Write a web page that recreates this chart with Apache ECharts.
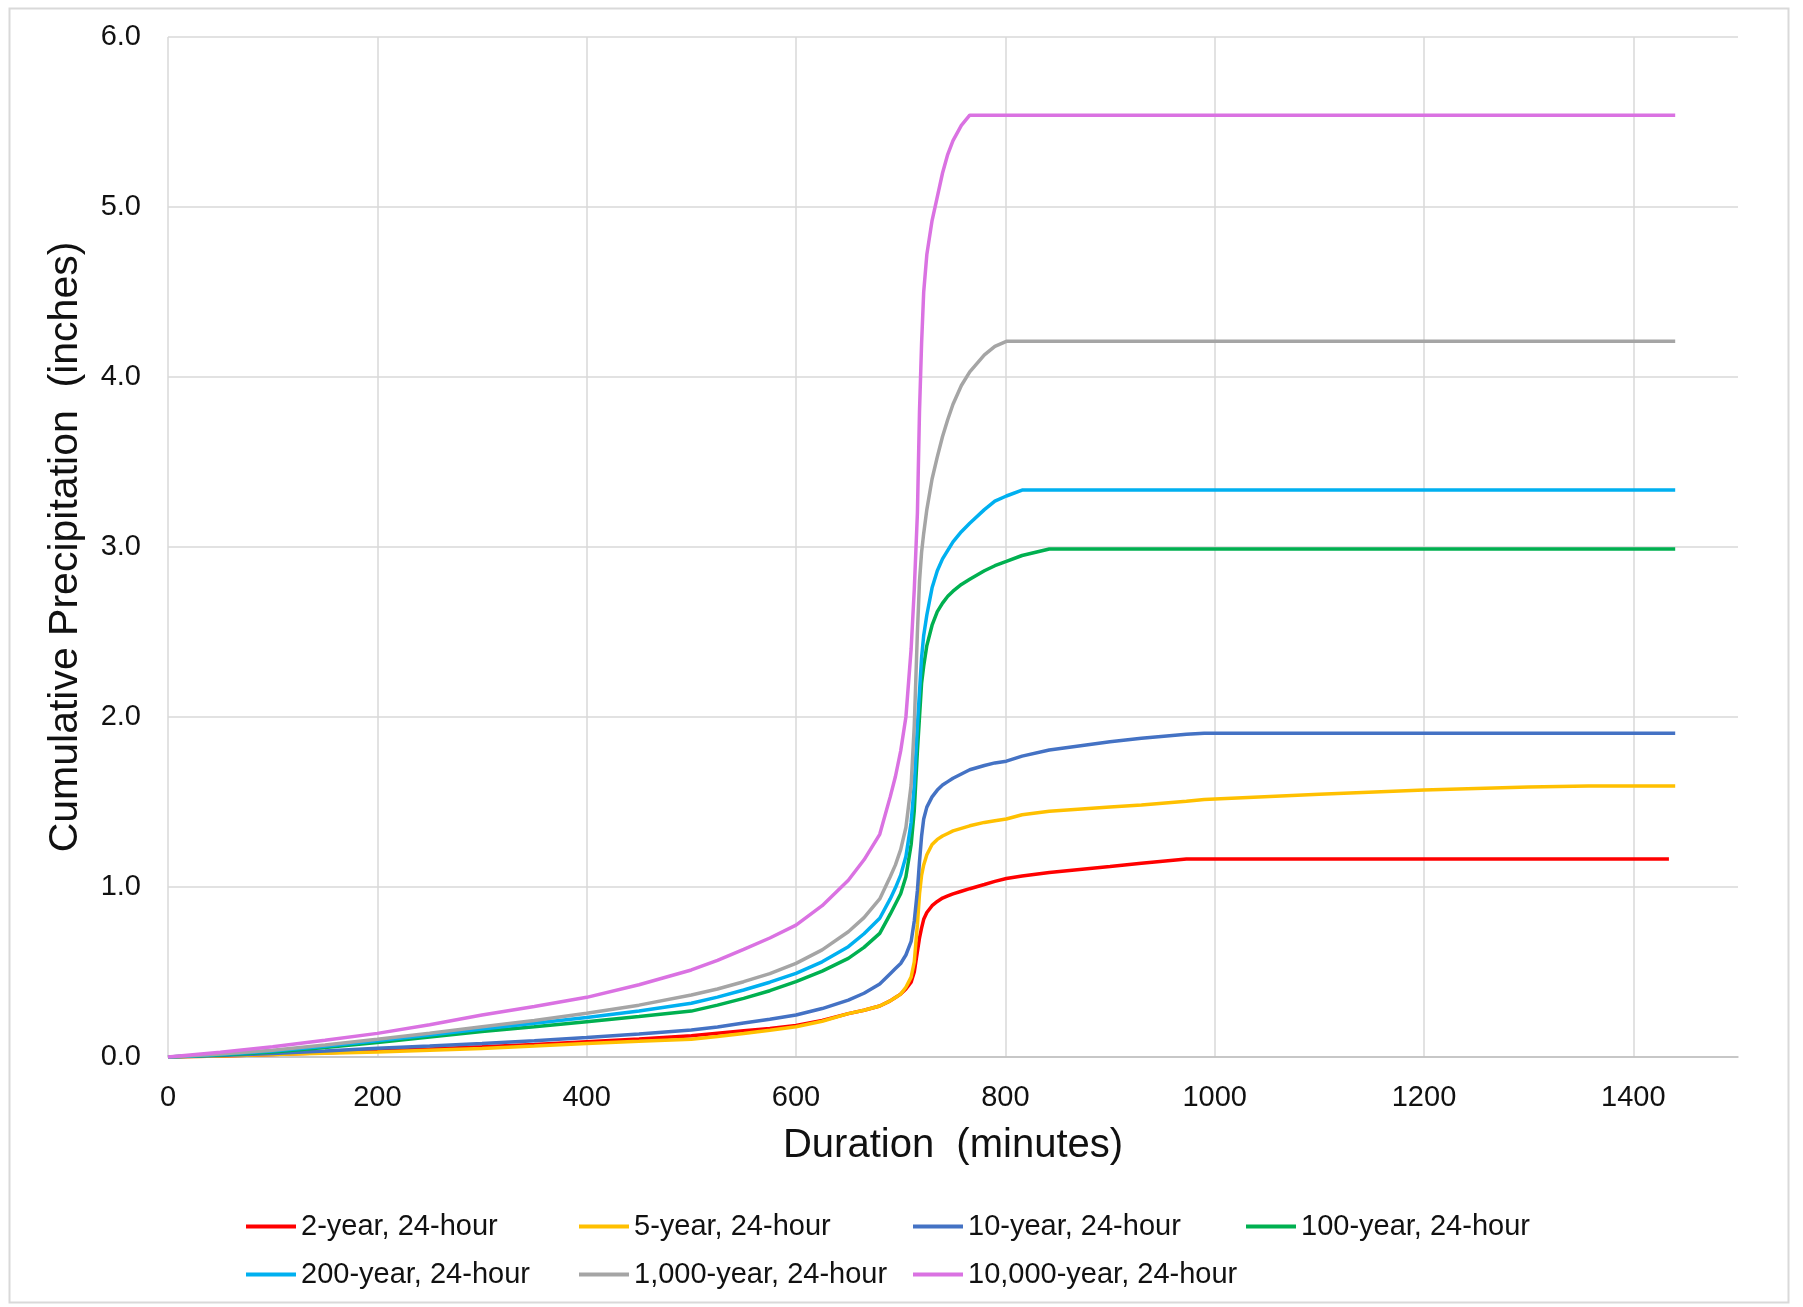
<!DOCTYPE html>
<html>
<head>
<meta charset="utf-8">
<script src="https://cdn.jsdelivr.net/npm/echarts@6/dist/echarts.min.js"></script>
<style>
html,body{margin:0;padding:0;background:#fff;}
#chart{width:1803px;height:1307px;}
</style>
</head>
<body>
<div id="chart"></div>
<script>
// Duration (minutes) sample points shared by all series
const minutes = [0,50,100,150,200,250,300,350,400,450,
                 500,525,550,575,600,625,650,665,680,690,
                 695,700,705,710,713,716,718,720,722,725,
                 730,735,740,745,750,758,766,780,790,801,
                 816,842,900,930,973,990,1100,1200,1300,1357,
                 1434,1440];

const seriesNames = ["2-year, 24-hour","5-year, 24-hour","10-year, 24-hour","100-year, 24-hour","200-year, 24-hour","1,000-year, 24-hour","10,000-year, 24-hour"];

const y2 = [0,0.006,0.015,0.025,0.035,0.047,0.06,0.074,0.09,0.106,
            0.125,0.14,0.155,0.168,0.185,0.215,0.255,0.275,0.30,0.33,
            0.35,0.37,0.40,0.44,0.50,0.62,0.70,0.76,0.81,0.85,
            0.89,0.915,0.935,0.948,0.96,0.975,0.99,1.015,1.033,1.05,
            1.065,1.085,1.12,1.14,1.165,1.165,1.165,1.165,1.165,1.165,
            1.165,null];
const y5 = [0,0.006,0.015,0.022,0.03,0.04,0.05,0.064,0.08,0.092,
            0.105,0.12,0.138,0.157,0.178,0.21,0.255,0.275,0.30,0.33,
            0.35,0.37,0.41,0.47,0.56,0.78,0.96,1.07,1.13,1.19,
            1.25,1.28,1.30,1.315,1.33,1.345,1.36,1.38,1.39,1.40,
            1.425,1.445,1.47,1.483,1.505,1.515,1.545,1.571,1.588,1.594,
            1.594,1.594];
const y10 = [0,0.009,0.02,0.035,0.051,0.065,0.08,0.096,0.114,0.135,
             0.159,0.177,0.2,0.222,0.247,0.285,0.335,0.375,0.43,0.49,
             0.52,0.55,0.60,0.68,0.80,0.98,1.15,1.30,1.40,1.47,
             1.53,1.57,1.60,1.62,1.64,1.665,1.69,1.715,1.73,1.74,
             1.77,1.806,1.855,1.875,1.898,1.904,1.904,1.904,1.904,1.904,
             1.904,1.904];
const y100 = [0,0.012,0.03,0.056,0.085,0.117,0.15,0.178,0.208,0.238,
              0.27,0.305,0.345,0.39,0.443,0.505,0.58,0.645,0.727,0.84,
              0.90,0.96,1.06,1.25,1.45,1.80,2.00,2.20,2.30,2.42,
              2.54,2.62,2.67,2.71,2.74,2.78,2.81,2.86,2.89,2.915,
              2.95,2.988,2.988,2.988,2.988,2.988,2.988,2.988,2.988,2.988,
              2.988,2.988];
const y200 = [0,0.015,0.035,0.063,0.095,0.13,0.165,0.198,0.233,0.27,
              0.316,0.352,0.394,0.44,0.492,0.56,0.649,0.725,0.816,0.93,
              0.995,1.07,1.18,1.38,1.60,1.95,2.15,2.35,2.48,2.60,
              2.76,2.86,2.93,2.98,3.03,3.09,3.14,3.22,3.27,3.30,
              3.335,3.335,3.335,3.335,3.335,3.335,3.335,3.335,3.335,3.335,
              3.335,3.335];
const y1000 = [0,0.018,0.04,0.07,0.104,0.14,0.178,0.215,0.257,0.305,
               0.365,0.40,0.443,0.49,0.551,0.63,0.737,0.82,0.93,1.06,
               1.13,1.22,1.35,1.60,1.95,2.50,2.80,2.97,3.08,3.22,
               3.40,3.53,3.65,3.75,3.84,3.95,4.03,4.13,4.18,4.21,
               4.21,4.21,4.21,4.21,4.21,4.21,4.21,4.21,4.21,4.21,
               4.21,4.21];
const y10000 = [0,0.028,0.06,0.098,0.139,0.19,0.247,0.297,0.351,0.425,
                0.512,0.568,0.633,0.70,0.776,0.89,1.04,1.16,1.31,1.53,
                1.65,1.80,2.00,2.40,2.75,3.20,3.80,4.20,4.50,4.72,
                4.92,5.06,5.20,5.31,5.39,5.48,5.54,5.54,5.54,5.54,
                5.54,5.54,5.54,5.54,5.54,5.54,5.54,5.54,5.54,5.54,
                5.54,5.54];

const allValues = [y2,y5,y10,y100,y200,y1000,y10000];
const colors = ['#FF0000','#FFC000','#4472C4','#00B050','#00B0F0','#A5A5A5','#DA72E2'];

const xTicks = {min:0, max:1500, interval:200};
const yTicks = {min:0, max:6, interval:1};

const FONT = '"Liberation Sans", Arial, sans-serif';

const series = seriesNames.map((name,k)=>({
  name: name,
  type: 'line',
  symbol: 'none',
  smooth: false,
  connectNulls: false,
  lineStyle: {width: 3.5, color: colors[k]},
  itemStyle: {color: colors[k]},
  data: minutes.map((m,i)=>[m, allValues[k][i]])
}));

// legend item positions (two rows, four columns)
const colX = [241, 574, 908, 1241];
const rowY = [1207, 1255];
const legends = seriesNames.map((name,k)=>({
  data:[name],
  left: colX[k%4],
  top: rowY[Math.floor(k/4)],
  icon: 'rect',
  itemWidth: 50,
  itemHeight: 4,
  itemGap: 0,
  textStyle: {fontFamily: FONT, fontSize: 29, color:'#111'}
}));

const chart = echarts.init(document.getElementById('chart'), null, {renderer:'canvas'});
chart.setOption({
  backgroundColor:'#fff',
  animation:false,
  graphic:[{
    type:'rect', left:7, top:6, z:-1,
    shape:{width:1779, height:1294},
    style:{fill:'none', stroke:'#d9d9d9', lineWidth:2}
  }],
  grid:{left:168, top:37, width:1570, height:1020, containLabel:false},
  legend: legends,
  xAxis:{
    type:'value', min:xTicks.min, max:xTicks.max, interval:xTicks.interval,
    name:'Duration  (minutes)', nameLocation:'middle', nameGap:69,
    nameTextStyle:{fontFamily:FONT, fontSize:40, color:'#111'},
    axisLine:{show:true, lineStyle:{color:'#bfbfbf', width:1.5}},
    axisTick:{show:false},
    axisLabel:{fontFamily:FONT, fontSize:29, color:'#111', margin:26, showMaxLabel:false, formatter:v=>String(v)},
    splitLine:{show:true, showMaxLine:false, lineStyle:{color:'#d9d9d9', width:1.5}}
  },
  yAxis:{
    type:'value', min:yTicks.min, max:yTicks.max, interval:yTicks.interval,
    name:'Cumulative Precipitation  (inches)', nameLocation:'middle', nameGap:82,
    nameTextStyle:{fontFamily:FONT, fontSize:41, color:'#111'},
    axisLine:{show:false},
    axisTick:{show:false},
    axisLabel:{fontFamily:FONT, fontSize:29, color:'#111', margin:27, formatter:v=>v.toFixed(1)},
    splitLine:{show:true, lineStyle:{color:'#d9d9d9', width:1.5}}
  },
  series: series
});
</script>
</body>
</html>
